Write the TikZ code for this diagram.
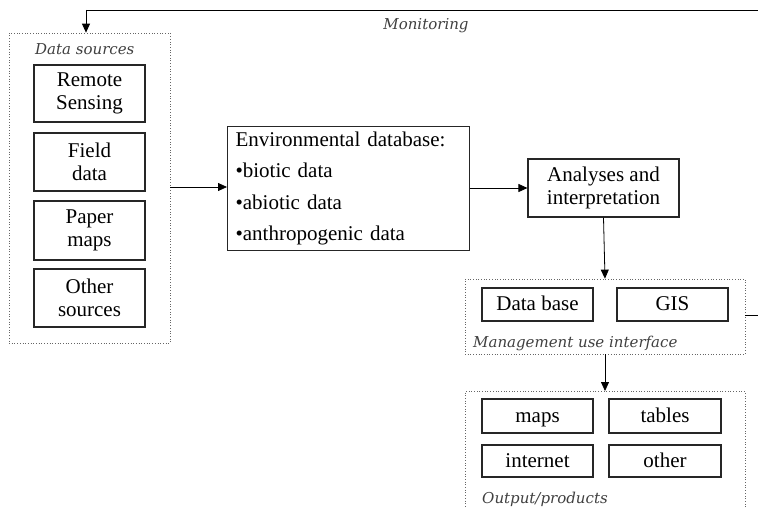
\documentclass[tikz,border=0pt]{standalone}
\usepackage{fontspec}
\setmainfont{Liberation Serif}
\newfontfamily\labfont{DejaVu Serif}
\usetikzlibrary{arrows.meta}
\begin{document}
\begin{tikzpicture}[x=1pt,y=-1pt,
  box/.style={draw=black!85,line width=1.1pt,inner sep=0pt,align=center,font=\fontsize{21}{22.5}\selectfont},
  onebox/.style={box,text height=15pt,text depth=3pt},
  dotbox/.style={draw=black!60,dotted,line width=0.7pt,inner sep=0pt},
  lab/.style={inner sep=0pt,anchor=west,font=\labfont\itshape\fontsize{15}{16}\selectfont,text=black!75},
  arr/.style={line width=0.8pt,-{Triangle[length=9pt,width=8pt]}},
  ln/.style={line width=0.8pt}]
\useasboundingbox (0,0) rectangle (758,508);
\clip (0,0) rectangle (758,508);
% data sources
\node[dotbox,minimum width=161pt,minimum height=310pt] (ds) at (89.5,188) {};
\node[lab] (dsl) at (35,49) {Data sources};
\node[box,minimum width=111pt,minimum height=57pt] (rs) at (89.5,93.5) {Remote\\Sensing};
\node[box,minimum width=111pt,minimum height=58pt] (fd) at (89.5,162) {Field\\data};
\node[box,minimum width=111pt,minimum height=59pt] (pm) at (89.5,230.5) {Paper\\maps};
\node[box,minimum width=111pt,minimum height=58pt] (os) at (89.5,298) {Other\\sources};
% environmental database
\node[box,minimum width=236pt,minimum height=123pt,align=left,anchor=north west,text width=226pt,inner xsep=8pt,inner ysep=5pt,font=\fontsize{21}{31.5}\selectfont] (env) at (227,126)
  {Environmental database:\\ \textbullet biotic data\\ \textbullet abiotic data\\ \textbullet anthropogenic data};
% analyses
\node[box,minimum width=151pt,minimum height=58pt] (an) at (603.5,188) {Analyses and\\interpretation};
% management
\node[dotbox,minimum width=280pt,minimum height=75pt] (mg) at (605,316.5) {};
\node[onebox,minimum width=111pt,minimum height=33pt] (db) at (537.5,304.5) {Data base};
\node[onebox,minimum width=111pt,minimum height=33pt] (gis) at (672.5,304.5) {GIS};
\node[lab] (mgl) at (473,343) {Management use interface};
% output
\node[dotbox,minimum width=280pt,minimum height=130pt,anchor=north] (out) at (605,391) {};
\node[onebox,minimum width=111pt,minimum height=34pt] (maps) at (537.5,416) {maps};
\node[onebox,minimum width=112pt,minimum height=34pt] (tab) at (665,416) {tables};
\node[onebox,minimum width=111pt,minimum height=32pt] (inet) at (537.5,461) {internet};
\node[onebox,minimum width=112pt,minimum height=32pt] (oth) at (665,461) {other};
\node[lab] (outl) at (482,499) {Output/products};
% monitoring
\node[lab,anchor=center] (mon) at (426,26) {Monitoring};
\coordinate (fbr) at (770,315);
\coordinate (fbt) at (86,10);
% connectors
\draw[arr] (ds.east |- 0,187) -- (env.west |- 0,187);
\draw[arr] (env.east |- 0,188) -- (an.west);
\draw[arr] (an.south) -- (mg.north);
\draw[arr] (mg.south) -- (out.north);
\draw[ln] (mg.east |- fbr) -- (fbr) -- (fbr |- fbt) -- (fbt);
\draw[arr] (fbt) -- (fbt |- ds.north);
\end{tikzpicture}
\end{document}
